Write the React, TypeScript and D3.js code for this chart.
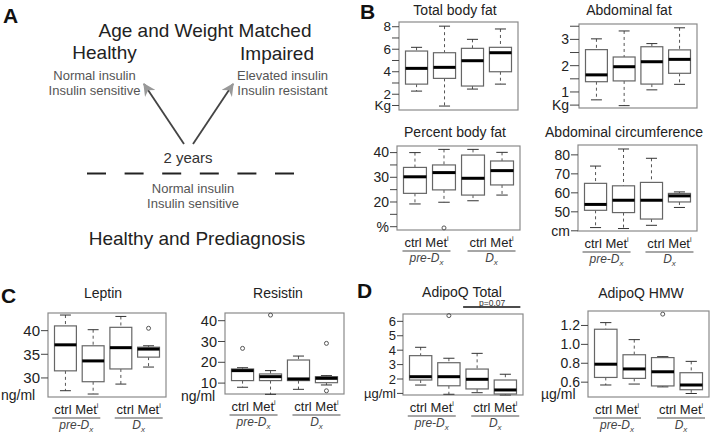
import React from 'react';
import * as d3 from 'd3';

const FONT = '"Liberation Sans", Arial, Helvetica, sans-serif';

const groups = ['ctrl pre-Dx', 'Met pre-Dx', 'ctrl Dx', 'Met Dx'];

// box stats per group: [lower whisker, Q1, median, Q3, upper whisker]
const totalBodyFat = [
  [2.28, 2.9, 4.3, 5.84, 6.17],
  [0.95, 3.41, 4.39, 5.69, 8.05],
  [2.46, 2.73, 4.98, 6.08, 6.88],
  [2.9, 4.0, 5.69, 6.17, 7.8],
];
const totalBodyFatOut = [[], [], [], []];

const abdominalFat = [
  [0.7, 1.39, 1.65, 2.61, 3.02],
  [0.48, 1.42, 1.96, 2.33, 3.32],
  [1.08, 1.3, 2.15, 2.72, 2.84],
  [1.29, 1.71, 2.24, 2.6, 3.44],
];
const abdominalFatOut = [[], [], [], []];

const percentBodyFat = [
  [19.2, 23.5, 30.2, 34.0, 40.0],
  [19.9, 24.9, 31.9, 35.0, 41.3],
  [20.5, 22.8, 29.6, 39.0, 41.3],
  [22.8, 26.9, 32.7, 36.6, 40.1],
];
const percentBodyFatOut = [[], [9.5], [], []];

const abdominalCirc = [
  [41.7, 50.8, 53.9, 65.0, 74.1],
  [41.2, 49.6, 56.1, 63.7, 83.1],
  [42.9, 46.2, 56.1, 65.5, 78.2],
  [52.3, 55.2, 58.4, 59.7, 60.5],
];
const abdominalCircOut = [[], [], [], []];

const leptin = [
  [27.3, 31.5, 37.0, 41.0, 43.3],
  [26.6, 29.2, 33.6, 36.8, 40.2],
  [28.7, 31.9, 36.4, 40.7, 43.0],
  [32.3, 34.4, 36.1, 36.5, 36.8],
];
const leptinOut = [[], [], [], [40.5]];

const resistin = [
  [8.0, 11.2, 16.0, 16.8, 17.4],
  [4.6, 11.2, 13.1, 14.4, 16.0],
  [7.0, 11.2, 12.0, 21.1, 23.0],
  [9.1, 10.2, 12.3, 13.1, 13.6],
];
const resistinOut = [[26.7], [42.7], [], [29.1, 6.3]];

const adipoqTotal = [
  [1.58, 1.93, 2.16, 3.62, 4.2],
  [0.94, 1.53, 2.16, 3.13, 3.44],
  [1.05, 1.31, 1.98, 2.69, 3.78],
  [0.89, 0.96, 1.24, 1.93, 2.33],
];
const adipoqTotalOut = [[], [6.4], [], []];

const adipoqHmw = [
  [0.57, 0.65, 0.79, 1.16, 1.23],
  [0.58, 0.64, 0.74, 0.89, 1.05],
  [0.55, 0.56, 0.71, 0.86, 0.87],
  [0.48, 0.52, 0.57, 0.7, 0.82],
];
const adipoqHmwOut = [[], [], [1.32], []];

// axis ticks and their labels ('' = unlabelled tick)
const totalFatTicks = [1, 2, 3, 4, 5, 6, 7, 8];
const totalFatLabels = ['Kg', '2', '', '4', '', '6', '', '8'];
const abdFatTicks = [0.5, 1, 1.5, 2, 2.5, 3, 3.5];
const abdFatLabels = ['Kg', '1', '', '2', '', '3', ''];
const pctTicks = [10, 15, 20, 25, 30, 35, 40];
const pctLabels = ['%', '', '20', '', '30', '', '40'];
const circTicks = [40, 50, 60, 70, 80];
const circLabels = ['cm', '50', '60', '70', '80'];
const leptinTicks = [30, 35, 40];
const leptinLabels = ['30', '35', '40'];
const resistinTicks = [10, 20, 30, 40];
const resistinLabels = ['10', '20', '30', '40'];
const totalAdipoTicks = [1, 2, 3, 4, 5, 6];
const totalAdipoLabels = ['\u00b5g/ml', '2', '3', '4', '5', '6'];
const hmwTicks = [0.6, 0.8, 1.0, 1.2];
const hmwLabels = ['0.6', '0.8', '1.0', '1.2'];

function GroupLabels({ c1, c2, yb }) {
  const row = (c, pre) => (
    <g>
      <text x={c} y={yb + 17} textAnchor="middle" fontSize={13} fill="#222">
        ctrl Met<tspan fontSize={7} dy={-6}>i</tspan>
      </text>
      <line x1={c - 24} x2={c + 24} y1={yb + 21} y2={yb + 21} stroke="#888" strokeWidth={1.5} />
      <text x={c} y={yb + 32} textAnchor="middle" fontSize={12} fontStyle="italic" fill="#444">
        {pre ? 'pre-D' : 'D'}<tspan fontSize={8} dy={3}>x</tspan>
      </text>
    </g>
  );
  return (
    <g>
      {row(c1, true)}
      {row(c2, false)}
    </g>
  );
}

function BoxPanel({ cfg, stats, outliers, ticks, tickLabels }) {
  const { x0, x1, y0, y1, domain } = cfg;
  const x = d3.scaleBand<string>().domain(groups).range([x0 + 6.5, x1 - 6.5]).paddingInner(0.21);
  const y = d3.scaleLinear().domain(domain).range([y1, y0]);
  const bw = x.bandwidth();
  const tl = cfg.tickLen ?? 7;
  const cen = (i) => (x(groups[i]) as number) + bw / 2;
  return (
    <g>
      <text x={cfg.titleX} y={cfg.titleY} textAnchor="middle" fontSize={14} fill="#222">
        {cfg.title}
      </text>
      <rect x={x0} y={y0} width={x1 - x0} height={y1 - y0} fill="none" stroke="#8a8a8a" strokeWidth={1.2} />
      {ticks.map((t, i) => (
        <g key={i}>
          <line x1={x0 - tl} x2={x0} y1={y(t)} y2={y(t)} stroke="#444" />
          {tickLabels[i] && (
            <text x={x0 - tl - 1} y={y(t)} dy="0.35em" textAnchor="end" fontSize={cfg.tickFont ?? 14} fill="#222">
              {tickLabels[i]}
            </text>
          )}
        </g>
      ))}
      {cfg.unit && (
        <text x={cfg.unit.x} y={cfg.unit.y} fontSize={14} fill="#222">
          {cfg.unit.text}
        </text>
      )}
      {stats.map((s, i) => {
        const bx = x(groups[i]) as number;
        const cx = cen(i);
        const [lo, q1, med, q3, hi] = s;
        return (
          <g key={groups[i]}>
            <line x1={cx} x2={cx} y1={y(hi)} y2={y(q3)} stroke="#555" strokeDasharray="3,3" />
            <line x1={cx} x2={cx} y1={y(q1)} y2={y(lo)} stroke="#555" strokeDasharray="3,3" />
            <line x1={cx - bw / 4} x2={cx + bw / 4} y1={y(hi)} y2={y(hi)} stroke="#333" />
            <line x1={cx - bw / 4} x2={cx + bw / 4} y1={y(lo)} y2={y(lo)} stroke="#333" />
            <rect x={bx} y={y(q3)} width={bw} height={y(q1) - y(q3)} fill="#fff" stroke="#666" strokeWidth={1.2} />
            <line x1={bx} x2={bx + bw} y1={y(med)} y2={y(med)} stroke="#000" strokeWidth={3} />
            {outliers[i].map((o, j) => (
              <circle key={j} cx={cx} cy={y(o)} r={2} fill="none" stroke="#555" />
            ))}
          </g>
        );
      })}
      {cfg.labels && <GroupLabels c1={(cen(0) + cen(1)) / 2 - 3} c2={(cen(2) + cen(3)) / 2 + 4} yb={y1} />}
      {cfg.pValue && (
        <g>
          <line x1={cen(2) - 14} x2={cen(3) + 15} y1={y0 - 7} y2={y0 - 7} stroke="#111" strokeWidth={1.5} />
          <text x={(cen(2) + cen(3)) / 2 + 1} y={y0 - 8.5} textAnchor="middle" fontSize={8.5} fill="#333">
            {cfg.pValue}
          </text>
        </g>
      )}
    </g>
  );
}

function PanelA() {
  const sub = '#555';
  return (
    <g>
      <defs>
        <marker id="arr" viewBox="0 0 10 10" refX="9" refY="5" markerWidth="7" markerHeight="7" orient="auto">
          <path d="M0,0 L10,5 L0,10 L3,5 z" fill="#999" />
        </marker>
      </defs>
      <text x={205} y={37} textAnchor="middle" fontSize={19} fill="#222">Age and Weight Matched</text>
      <text x={104.5} y={59} textAnchor="middle" fontSize={19} fill="#222">Healthy</text>
      <text x={277} y={60} textAnchor="middle" fontSize={19} fill="#222">Impaired</text>
      <text x={94.5} y={80} textAnchor="middle" fontSize={13} fill={sub}>Normal insulin</text>
      <text x={94.5} y={95} textAnchor="middle" fontSize={13} fill={sub}>Insulin sensitive</text>
      <text x={282.5} y={80} textAnchor="middle" fontSize={13} fill={sub}>Elevated insulin</text>
      <text x={282.5} y={95} textAnchor="middle" fontSize={13} fill={sub}>Insulin resistant</text>
      <line x1={184} y1={144} x2={144} y2={84} stroke="#444" strokeWidth={1.8} markerEnd="url(#arr)" />
      <line x1={193} y1={144} x2={233} y2={84} stroke="#444" strokeWidth={1.8} markerEnd="url(#arr)" />
      <text x={188} y={163} textAnchor="middle" fontSize={15} fill="#333">2 years</text>
      <line x1={87} x2={295} y1={173.5} y2={173.5} stroke="#222" strokeWidth={2} strokeDasharray="19,18.6" />
      <text x={193} y={193} textAnchor="middle" fontSize={13} fill={sub}>Normal insulin</text>
      <text x={193} y={208} textAnchor="middle" fontSize={13} fill={sub}>Insulin sensitive</text>
      <text x={197} y={245} textAnchor="middle" fontSize={19} fill="#222">Healthy and Prediagnosis</text>
    </g>
  );
}

export default function App() {
  const letter = (t, x, y) => (
    <text x={x} y={y} fontSize={21} fontWeight="bold" fill="#111">{t}</text>
  );
  return (
    <svg
      width={711}
      height={436}
      style={{ position: 'absolute', left: 0, top: 0, background: '#fff', fontFamily: FONT }}
    >
      {letter('A', 3, 23)}
      {letter('B', 360, 19)}
      {letter('C', 1, 303)}
      {letter('D', 357, 298)}
      <PanelA />
      <BoxPanel
        cfg={{ x0: 399, x1: 518, y0: 22, y1: 110, domain: [0.6, 8.42], title: 'Total body fat', titleX: 455, titleY: 15, tickFont: 13.5 }}
        stats={totalBodyFat} outliers={totalBodyFatOut} ticks={totalFatTicks} tickLabels={totalFatLabels}
      />
      <BoxPanel
        cfg={{ x0: 579, x1: 697, y0: 24, y1: 108, domain: [0.39, 3.585], title: 'Abdominal fat', titleX: 629, titleY: 15, tickLen: 9 }}
        stats={abdominalFat} outliers={abdominalFatOut} ticks={abdFatTicks} tickLabels={abdFatLabels}
      />
      <BoxPanel
        cfg={{ x0: 397, x1: 520, y0: 146, y1: 230, domain: [8.66, 42.67], title: 'Percent body fat', titleX: 455, titleY: 137, labels: true }}
        stats={percentBodyFat} outliers={percentBodyFatOut} ticks={pctTicks} tickLabels={pctLabels}
      />
      <BoxPanel
        cfg={{ x0: 578, x1: 697, y0: 145, y1: 231, domain: [39.9, 85.2], title: 'Abdominal circumference', titleX: 624, titleY: 137, labels: true }}
        stats={abdominalCirc} outliers={abdominalCircOut} ticks={circTicks} tickLabels={circLabels}
      />
      <BoxPanel
        cfg={{ x0: 48, x1: 166, y0: 313, y1: 397, domain: [25.97, 43.73], title: 'Leptin', titleX: 103, titleY: 298, labels: true, tickFont: 15, unit: { text: 'ng/ml', x: 1, y: 400 } }}
        stats={leptin} outliers={leptinOut} ticks={leptinTicks} tickLabels={leptinLabels}
      />
      <BoxPanel
        cfg={{ x0: 225, x1: 344, y0: 313, y1: 394, domain: [4.76, 43.7], title: 'Resistin', titleX: 278, titleY: 298, labels: true, tickFont: 14.5, unit: { text: 'ng/ml', x: 181, y: 401 } }}
        stats={resistin} outliers={resistinOut} ticks={resistinTicks} tickLabels={resistinLabels}
      />
      <BoxPanel
        cfg={{ x0: 403, x1: 523, y0: 314, y1: 395, domain: [0.89, 6.51], title: 'AdipoQ Total', titleX: 462, titleY: 297, labels: true, tickFont: 13, tickLen: 6, pValue: 'p=0.07' }}
        stats={adipoqTotal} outliers={adipoqTotalOut} ticks={totalAdipoTicks} tickLabels={totalAdipoLabels}
      />
      <BoxPanel
        cfg={{ x0: 588, x1: 709, y0: 311, y1: 397, domain: [0.443, 1.353], title: 'AdipoQ HMW', titleX: 641, titleY: 298, labels: true, unit: { text: '\u00b5g/ml', x: 541, y: 399 } }}
        stats={adipoqHmw} outliers={adipoqHmwOut} ticks={hmwTicks} tickLabels={hmwLabels}
      />
    </svg>
  );
}
